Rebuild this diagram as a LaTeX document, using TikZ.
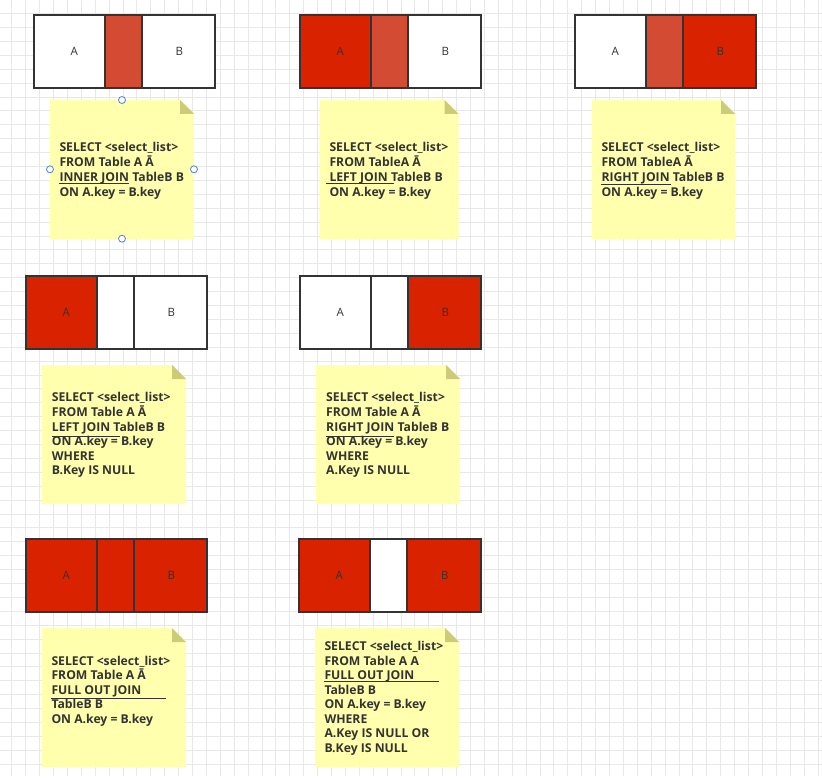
\documentclass[tikz,border=0pt]{standalone}
\usepackage{fontspec}
\setmainfont{Open Sans}
\newfontfamily\notefont{Open Sans}
\usetikzlibrary{calc}
\definecolor{redA}{HTML}{D92300}
\definecolor{midR}{HTML}{D24B32}
\definecolor{noteY}{HTML}{FFFFAD}
\definecolor{foldc}{HTML}{CCCC77}
\definecolor{gridc}{HTML}{E8E8E8}
\definecolor{edgec}{HTML}{333333}
\definecolor{handc}{HTML}{4A7FE8}
\tikzset{
  seg/.style={draw=edgec, line width=1.6pt, inner sep=0pt, anchor=north west, minimum height=73pt},
  lbl/.style={inner sep=0pt, text=edgec, font=\fontsize{11.5}{13}\selectfont},
  txt/.style={anchor=base west, inner sep=0pt, text=edgec, font=\notefont\bfseries\fontsize{12.2}{15}\selectfont},
  ul/.style={draw=edgec, line width=0.8pt},
  handle/.style={circle, draw=handc, fill=white, line width=0.8pt, minimum size=7pt, inner sep=0pt},
}
% #1 name, #2 x0, #3 x1, #4 x2, #5 x3, #6 y0, #7 left fill, #8 mid fill, #9 right fill
\newcommand\joinbar[9]{%
  \node[seg, fill=#7, minimum width=#3pt-#2pt] (#1-a) at (#2,#6) {};
  \node[seg, fill=#9, minimum width=#5pt-#4pt] (#1-b) at (#4,#6) {};
  \node[seg, fill=#8, minimum width=#4pt-#3pt] (#1-m) at (#3,#6) {};
  \node[lbl] (#1-la) at ($(#1-a.center)+(5,0)$) {A};
  \node[lbl] (#1-lb) at ($(#1-b.center)+(1,0)$) {B};
}
% #1 x0, #2 y0, #3 width
\newcommand\stickynote[3]{%
  \fill[noteY] (#1,#2) -- ++(#3-14,0) -- ++(14,14) -- ++(0,125) -- ++(-#3,0) -- cycle;
  \fill[foldc] (#1+#3-14,#2) -- ++(14,14) -- ++(-14,0) -- cycle;
}
\begin{document}
\begin{tikzpicture}[x=1pt,y=-1pt]
\useasboundingbox (0,0) rectangle (822,778);
\fill[white] (0,0) rectangle (822,778);
% grid
\foreach \i in {0,...,58} {
  \draw[gridc, line width=0.7pt] ({11.7+13.9*\i},0) -- ({11.7+13.9*\i},776);
}
\foreach \j in {0,...,55} {
  \draw[gridc, line width=0.7pt] (0,{13.5+13.9*\j}) -- (822,{13.5+13.9*\j});
}
% bars
\joinbar{j1}{33}{104}{141}{214}{14}{white}{midR}{white}
\joinbar{j2}{299}{370}{407}{480}{14}{redA}{midR}{white}
\joinbar{j3}{574}{645}{682}{755}{14}{white}{midR}{redA}
\joinbar{j4}{25}{96}{133}{206}{275}{redA}{white}{white}
\joinbar{j5}{299}{370}{407}{480}{275}{white}{white}{redA}
\joinbar{j6}{25}{96}{133}{206}{538}{redA}{redA}{redA}
\joinbar{j7}{298}{369}{406}{480}{538}{redA}{white}{redA}
% notes
\stickynote{50}{100}{144}
\stickynote{319.5}{100}{139}
\stickynote{592}{100}{143}
\stickynote{42}{365}{144}
\stickynote{316}{365}{144}
\stickynote{42}{628}{144}
\stickynote{315}{628}{144}
% note 1
\node[txt] (t1a) at (59.3,151.8) {SELECT <select\_list>};
\node[txt] (t1b) at (59.3,166.8) {FROM Table A Ā};
\node[txt] (t1c) at (59.3,181.8) {INNER JOIN TableB B};
\node[txt] (t1d) at (59.3,196.8) {ON A.key = B.key};
\draw[ul] (59.3,183.5) -- (129,183.5);
% note 2
\node[txt] (t2a) at (329.3,151.8) {SELECT <select\_list>};
\node[txt] (t2b) at (329.3,166.8) {FROM TableA Ā};
\node[txt] (t2c) at (329.3,181.8) {LEFT JOIN TableB B};
\node[txt] (t2d) at (329.3,196.8) {ON A.key = B.key};
\draw[ul] (326,183.5) -- (394,183.5);
% note 3
\node[txt] (t3a) at (601.3,151.8) {SELECT <select\_list>};
\node[txt] (t3b) at (601.3,166.8) {FROM TableA Ā};
\node[txt] (t3c) at (601.3,181.8) {RIGHT JOIN TableB B};
\node[txt] (t3d) at (601.3,196.8) {ON A.key = B.key};
\draw[ul] (601,184) -- (671,184);
% note 4
\node[txt] (t4a) at (51.7,401.8) {SELECT <select\_list>};
\node[txt] (t4b) at (51.7,416.8) {FROM Table A Ā};
\node[txt] (t4c) at (51.7,431.2) {LEFT JOIN TableB B};
\node[txt] (t4d) at (51.7,445.5) {ON A.key = B.key};
\node[txt] (t4e) at (51.7,460.2) {WHERE};
\node[txt] (t4f) at (51.7,474.5) {B.Key IS NULL};
\draw[ul] (52,436) -- (120,436);
% note 5
\node[txt] (t5a) at (326,401.8) {SELECT <select\_list>};
\node[txt] (t5b) at (326,416.8) {FROM Table A Ā};
\node[txt] (t5c) at (326,431.2) {RIGHT JOIN TableB B};
\node[txt] (t5d) at (326,445.5) {ON A.key = B.key};
\node[txt] (t5e) at (326,460.2) {WHERE};
\node[txt] (t5f) at (326,474.5) {A.Key IS NULL};
\draw[ul] (326,436) -- (394,436);
% note 6
\node[txt] (t6a) at (51.3,665.2) {SELECT <select\_list>};
\node[txt] (t6b) at (51.3,679.5) {FROM Table A Ā};
\node[txt] (t6c) at (51.3,694.5) {FULL OUT JOIN};
\node[txt] (t6d) at (51.3,708.8) {TableB B};
\node[txt] (t6e) at (51.3,723.5) {ON A.key = B.key};
\draw[ul] (51,698) -- (166,698);
% note 7
\node[txt] (t7a) at (324.3,650.2) {SELECT <select\_list>};
\node[txt] (t7b) at (324.3,665.2) {FROM Table A A};
\node[txt] (t7c) at (324.3,679.5) {FULL OUT JOIN};
\node[txt] (t7d) at (324.3,694.5) {TableB B};
\node[txt] (t7e) at (324.3,708.8) {ON A.key = B.key};
\node[txt] (t7f) at (324.3,723.5) {WHERE};
\node[txt] (t7g) at (324.3,737.8) {A.Key IS NULL OR};
\node[txt] (t7h) at (324.3,752.8) {B.Key IS NULL};
\draw[ul] (324,681) -- (439,681);
% selection handles on note 1
\node[handle] (h1) at (122,100) {};
\node[handle] (h2) at (50,169.3) {};
\node[handle] (h3) at (194,169.3) {};
\node[handle] (h4) at (122,238.7) {};
\end{tikzpicture}
\end{document}
